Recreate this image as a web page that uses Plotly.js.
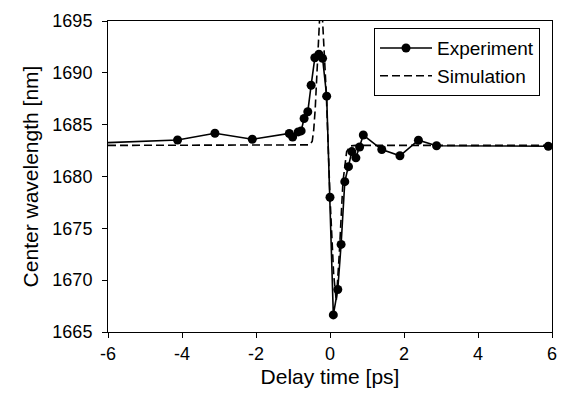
<!DOCTYPE html>
<html>
<head>
<meta charset="utf-8">
<script src="https://cdn.plot.ly/plotly-3.0.1.min.js"></script>
<style>html,body{margin:0;padding:0;background:#fff;}#chart{width:562px;height:396px;}</style>
</head>
<body>
<div id="chart"></div>
<script>
// Experiment (delay time [ps], center wavelength [nm])
const expDelay = [-8, -4.12, -3.11, -2.10, -1.10, -1.01, -0.86, -0.78, -0.70, -0.60, -0.51, -0.41, -0.30, -0.20, -0.09, 0.0, 0.09, 0.21, 0.30, 0.40, 0.50, 0.59, 0.70, 0.80, 0.90, 1.40, 1.89, 2.39, 2.88, 5.90];
const expWave  = [1683.0, 1683.52, 1684.17, 1683.59, 1684.15, 1683.8, 1684.3, 1684.4, 1685.6, 1686.25, 1688.8, 1691.45, 1691.8, 1691.4, 1687.75, 1678.0, 1666.65, 1669.1, 1673.45, 1679.5, 1680.95, 1682.4, 1681.8, 1682.85, 1684.0, 1682.6, 1682.0, 1683.5, 1682.97, 1682.92];

// Simulation
const simDelay = [-6, -0.8, -0.55, -0.48, -0.44, -0.4, -0.35, -0.3, -0.25, -0.2, -0.1, 0, 0.1, 0.17, 0.25, 0.35, 0.45, 0.55, 0.7, 6];
const simWave  = [1683, 1683, 1683.05, 1683.4, 1684.5, 1686.5, 1690.5, 1695, 1697.5, 1695, 1688, 1678, 1670.5, 1668, 1672.5, 1679.5, 1682.4, 1682.95, 1683, 1683];

const xTicks = [-6, -4, -2, 0, 2, 4, 6];
const yTicks = [1665, 1670, 1675, 1680, 1685, 1690, 1695];

const fontFam = 'Arial, "Liberation Sans", Helvetica, sans-serif';

const traces = [
  {
    x: expDelay, y: expWave, name: 'Experiment', type: 'scatter', mode: 'lines+markers',
    line: {color: '#000', width: 1.6},
    marker: {color: '#000', size: 9, symbol: 'circle'},
    cliponaxis: true
  },
  {
    x: simDelay, y: simWave, name: 'Simulation', type: 'scatter', mode: 'lines',
    line: {color: '#000', width: 1.6, dash: '8px,4px'},
    cliponaxis: true
  }
];

const layout = {
  width: 562, height: 396,
  margin: {l: 108, r: 10, t: 21, b: 64},
  paper_bgcolor: '#fff', plot_bgcolor: '#fff',
  font: {family: fontFam, color: '#000', size: 18},
  showlegend: true,
  legend: {
    x: 0.973, xanchor: 'right', y: 0.977, yanchor: 'top',
    bordercolor: '#000', borderwidth: 1, bgcolor: '#fff',
    font: {family: fontFam, size: 19, color: '#000'},
    itemwidth: 52,
    tracegroupgap: 0
  },
  xaxis: {
    range: [-6, 6], tickvals: xTicks, ticktext: xTicks.map(String),
    showline: true, mirror: true, linecolor: '#000', linewidth: 1,
    ticks: 'outside', ticklen: 5, tickcolor: '#000',
    showgrid: false, zeroline: false,
    tickfont: {size: 18},
    title: {text: 'Delay time [ps]', font: {size: 21}, standoff: 6}
  },
  yaxis: {
    range: [1665, 1695], tickvals: yTicks, ticktext: yTicks.map(String),
    showline: true, mirror: true, linecolor: '#000', linewidth: 1,
    ticks: 'outside', ticklen: 5, tickcolor: '#000',
    ticklabelstandoff: 6,
    showgrid: false, zeroline: false,
    tickfont: {size: 18},
    title: {text: 'Center wavelength [nm]', font: {size: 21}, standoff: 8}
  }
};

Plotly.newPlot('chart', traces, layout, {displayModeBar: false, staticPlot: true});
</script>
</body>
</html>
